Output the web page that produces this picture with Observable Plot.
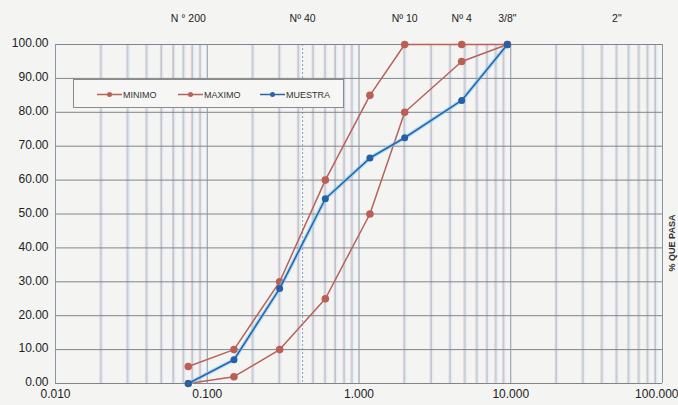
<!DOCTYPE html>
<html>
<head>
<meta charset="utf-8">
<script src="https://cdn.jsdelivr.net/npm/d3@7"></script>
<script src="https://cdn.jsdelivr.net/npm/@observablehq/plot@0.6"></script>
<style>
  body { margin: 0; background: #f4f4f2; }
  #wrap { position: relative; width: 678px; height: 405px; overflow: hidden; font-family: "Liberation Sans", Arial, sans-serif; }
  #legend { position: absolute; left: 73px; top: 79px; width: 271px; height: 29px; background: #f6f6f4; border: 1px solid #8a8a8a; box-sizing: border-box; }
  #ylab { position: absolute; left: 672px; top: 243px; transform: translate(-50%, -50%) rotate(-90deg); font-size: 9px; font-weight: bold; color: #333; white-space: nowrap; }
</style>
</head>
<body>
<div id="wrap"><div id="chart"></div><div id="legend"></div><div id="ylab">% QUE PASA</div></div>
<script>
const sieveSizes  = [0.075, 0.15, 0.3, 0.6, 1.18, 2.0, 4.75, 9.5];
const minimo      = [0, 2, 10, 25, 50, 80, 95, 100];
const maximo      = [5, 10, 30, 60, 85, 100, 100, 100];
const muestra     = [0, 7, 28, 54.5, 66.5, 72.5, 83.5, 100];

const topSieves   = [0.075, 0.425, 2.0, 4.75, 9.5, 50];
const topLabels   = ["N ° 200", "Nº 40", "Nº 10", "Nº 4", "3/8\"", "2\""];
const xTicks      = [0.01, 0.1, 1, 10, 100];
const xTickLabels = ["0.010", "0.100", "1.000", "10.000", "100.000"];
const yTicks      = [0, 10, 20, 30, 40, 50, 60, 70, 80, 90, 100];

const seriesNames = ["MINIMO", "MAXIMO", "MUESTRA"];
const seriesColors = ["#b8625a", "#b8625a", "#2a64ad"];

const rows = [];
[minimo, maximo, muestra].forEach((vals, i) =>
  vals.forEach((v, j) => rows.push({serie: seriesNames[i], x: sieveSizes[j], y: v})));

const minorGrid = d3.scaleLog().domain([0.01, 100]).ticks().filter(t => !xTicks.includes(t));

const redRows = rows.filter(d => d.serie !== "MUESTRA");
const blueRows = rows.filter(d => d.serie === "MUESTRA");

const lastTick = xTicks.length - 1;

const chart = Plot.plot({
  width: 678, height: 405,
  marginLeft: 55, marginRight: 16, marginTop: 44, marginBottom: 22,
  style: {background: "transparent", fontFamily: "Liberation Sans, Arial, sans-serif", fontSize: "12px", color: "#222", overflow: "visible"},
  x: {type: "log", domain: [0.01, 100], axis: null},
  y: {domain: [0, 100]},
  marks: [
    Plot.ruleX(minorGrid, {stroke: "#ecc0bd", strokeWidth: 1, dx: -1}),
    Plot.ruleX(minorGrid, {stroke: "#97a9bf", strokeWidth: 1, strokeOpacity: 0.8}),
    Plot.ruleX(minorGrid, {stroke: "#cfe0ee", strokeWidth: 4, strokeOpacity: 0.35}),
    Plot.ruleX([0.425], {stroke: "#8fa3bb", strokeDasharray: "2,2"}),
    Plot.ruleY(yTicks, {stroke: "#80848c", strokeWidth: 1}),
    Plot.ruleX(xTicks, {stroke: "#8a96a6", strokeWidth: 1}),
    Plot.axisY({ticks: yTicks, tickFormat: d3.format(".2f"), tickSize: 0, tickPadding: 7, label: null, fontSize: 12, dy: -1}),
    Plot.text(xTicks.slice(0, lastTick), {x: d => d, frameAnchor: "bottom", lineAnchor: "top", dy: 6,
      text: (d, i) => xTickLabels[i], fontSize: 12, fill: "#222", textAnchor: "middle"}),
    Plot.text([xTicks[lastTick]], {x: d => d, frameAnchor: "bottom", lineAnchor: "top", dy: 6, dx: 16,
      text: [xTickLabels[lastTick]], fontSize: 12, fill: "#222", textAnchor: "end"}),
    Plot.text(topSieves, {x: d => d, frameAnchor: "top", lineAnchor: "middle", dy: -26, text: (d, i) => topLabels[i], fontSize: 10.5, fill: "#222"}),
    Plot.line(redRows, {x: "x", y: "y", z: "serie", stroke: "#b8625a", strokeWidth: 1.5}),
    Plot.dot(redRows, {x: "x", y: "y", r: 3.8, fill: "#bb5f55"}),
    Plot.line(blueRows, {x: "x", y: "y", stroke: "#7fd0ee", strokeWidth: 4, strokeOpacity: 0.55}),
    Plot.line(blueRows, {x: "x", y: "y", stroke: "#2a64ad", strokeWidth: 1.6}),
    Plot.dot(blueRows, {x: "x", y: "y", r: 3.5, fill: "#2460a8"})
  ]
});
document.getElementById("chart").appendChild(chart);

// legend
const leg = document.getElementById("legend");
const lx = [23, 104, 186];
let s = `<svg width="271" height="29" style="position:absolute;left:0;top:0">`;
seriesNames.forEach((n, i) => {
  const x0 = lx[i];
  s += `<line x1="${x0}" x2="${x0+25}" y1="14.5" y2="14.5" stroke="${seriesColors[i]}" stroke-width="1.5"/>`;
  s += `<circle cx="${x0+12.5}" cy="14.5" r="2.5" fill="${seriesColors[i]}"/>`;
  s += `<text x="${x0+26}" y="18" font-size="9" fill="#333" font-family="Liberation Sans, Arial, sans-serif">${n}</text>`;
});
s += `</svg>`;
leg.innerHTML = s;
</script>
</body>
</html>
